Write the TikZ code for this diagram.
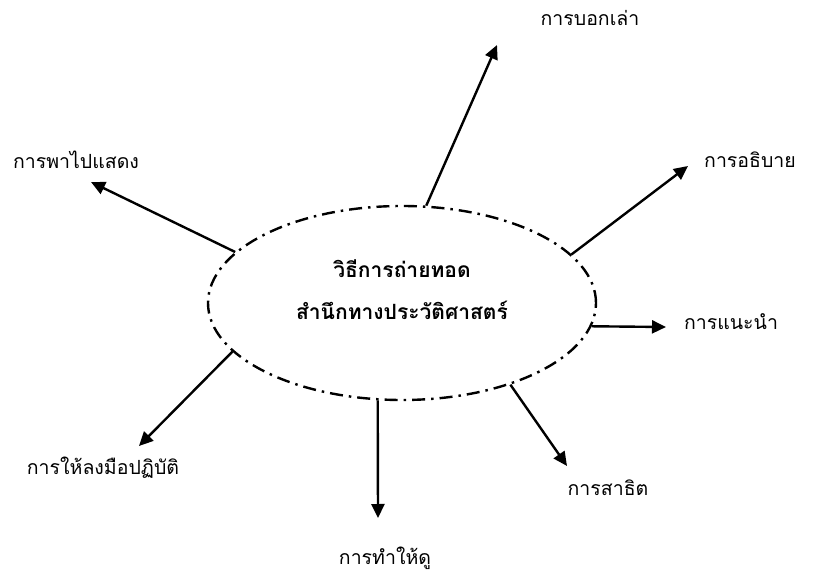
\documentclass[tikz,border=0pt]{standalone}
\usepackage{fontspec}
\newfontfamily\thaifont[Script=Thai]{Loma}
\usetikzlibrary{shapes.geometric,arrows.meta}
\begin{document}
\begin{tikzpicture}[x=1pt,y=-1pt,
  hub/.style={ellipse,draw,line width=2.4pt,
    dash pattern=on 13pt off 6pt on 2.5pt off 6pt,
    minimum width=388pt,minimum height=194pt,inner sep=0pt},
  spoke/.style={line width=2.4pt,-{Triangle[length=14pt,width=13pt]}},
  lbl/.style={font=\thaifont\fontsize{19.5}{22}\selectfont,inner sep=0pt}]
\useasboundingbox (0,0) rectangle (824,577);
\node[hub] (c) at (402,303) {};
\node[font=\thaifont\bfseries\fontsize{21}{24}\selectfont,align=center] (t) at (402,290)
  {วิธีการถ่ายทอด\\[18pt]สำนึกทางประวัติศาสตร์};
% arrow tips
\coordinate (p1) at (497,45);
\coordinate (p2) at (688,166);
\coordinate (p3) at (666,327);
\coordinate (p4) at (567,466);
\coordinate (p5) at (378,518);
\coordinate (p6) at (139,446);
\coordinate (p7) at (91,182);
\draw[spoke] (c.76) -- (p1);
\draw[spoke] (c.16) -- (p2);
\draw[spoke] (c.-7) -- (p3);
\draw[spoke] (c.-37) -- (p4);
\draw[spoke] (c.-104) -- (p5);
\draw[spoke] (c.196) -- (p6);
\draw[spoke] (c.163) -- (p7);
% labels
\node[lbl] (l1) at (590,18) {การบอกเล่า};
\node[lbl] (l2) at (750,160) {การอธิบาย};
\node[lbl] (l3) at (731,322) {การแนะนำ};
\node[lbl] (l4) at (608,488) {การสาธิต};
\node[lbl] (l5) at (385,558) {การทำให้ดู};
\node[lbl] (l6) at (103,468) {การให้ลงมือปฏิบัติ};
\node[lbl] (l7) at (76,160) {การพาไปแสดง};
\end{tikzpicture}
\end{document}
